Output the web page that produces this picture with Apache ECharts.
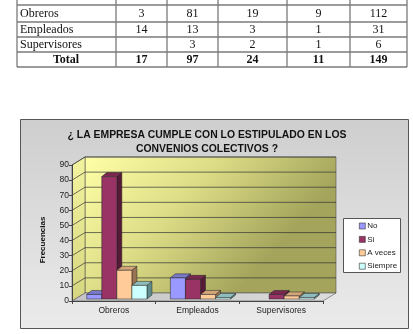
<!DOCTYPE html>
<html><head><meta charset="utf-8">
<script src="https://cdn.jsdelivr.net/npm/echarts@6/dist/echarts.min.js"></script>
<style>html,body{margin:0;padding:0;background:#fff}#c{width:413px;height:334px}</style>
</head><body><div id="c"></div>
<script>
// ---- data ----
const categories = ['Obreros', 'Empleados', 'Supervisores'];
const seriesNames = ['No', 'Si', 'A veces', 'Siempre'];
const noVals = [3, 14, null];
const siVals = [81, 13, 3];
const aVecesVals = [19, 3, 2];
const siempreVals = [9, 1, 1];
const rowTotals = [112, 31, 6];
const colTotals = [17, 97, 24, 11];
const grandTotal = 149;
const totalLabel = 'Total';
const yMax = 90, yStep = 10;
const titleText = '¿ LA EMPRESA CUMPLE CON LO ESTIPULADO EN LOS\nCONVENIOS COLECTIVOS ?';
const yName = 'Frecuencias';

// ---- style ----
const colors = ['#9999ff', '#993366', '#ffcc99', '#ccffff'];
const topColors = ['#7a7acc', '#7a2850', '#d2a67a', '#8fbcbc'];
const sideColors = ['#5c5ca6', '#561a38', '#9a7452', '#5f8c8c'];
const DX = 13, DY = -8;      // wall depth
const BOX = 3, BOY = -2;     // bar front offset
const BDX = 5, BDY = -4;     // bar depth
const sans = 'Liberation Sans', serif = 'Liberation Serif';

const allVals = [noVals, siVals, aVecesVals, siempreVals];

// ---- table graphic ----
const tCols = [17, 116, 167, 218, 287, 350, 407];
const tRows = [0, 5, 22, 37, 52, 67];
const tg = [];
const lineStyle = { stroke: '#7a7a7a', lineWidth: 1.3 };
tCols.forEach(x => tg.push({ type: 'line', shape: { x1: x, y1: 0, x2: x, y2: 67 }, style: lineStyle }));
tRows.slice(1).forEach(y => tg.push({ type: 'line', shape: { x1: 17, y1: y, x2: 407, y2: y }, style: lineStyle }));
const colCenter = i => (tCols[i + 1] + tCols[i + 2]) / 2;
categories.forEach((cat, r) => {
  const yc = (tRows[r + 1] + tRows[r + 2]) / 2 + 0.5;
  tg.push({ type: 'text', style: { x: 20, y: yc, text: cat, font: '12px ' + serif, fill: '#111', textVerticalAlign: 'middle' } });
  allVals.forEach((arr, k) => {
    if (arr[r] != null) tg.push({ type: 'text', style: { x: colCenter(k), y: yc, text: String(arr[r]), font: '12px ' + serif, fill: '#111', textAlign: 'center', textVerticalAlign: 'middle' } });
  });
  tg.push({ type: 'text', style: { x: colCenter(4), y: yc, text: String(rowTotals[r]), font: '12px ' + serif, fill: '#111', textAlign: 'center', textVerticalAlign: 'middle' } });
});
{
  const yc = (tRows[4] + tRows[5]) / 2 + 0.5;
  tg.push({ type: 'text', style: { x: 66, y: yc, text: totalLabel, font: 'bold 12px ' + serif, fill: '#111', textAlign: 'center', textVerticalAlign: 'middle' } });
  colTotals.forEach((v, k) => tg.push({ type: 'text', style: { x: colCenter(k), y: yc, text: String(v), font: 'bold 12px ' + serif, fill: '#111', textAlign: 'center', textVerticalAlign: 'middle' } }));
  tg.push({ type: 'text', style: { x: colCenter(4), y: yc, text: String(grandTotal), font: 'bold 12px ' + serif, fill: '#111', textAlign: 'center', textVerticalAlign: 'middle' } });
}

// chart box
tg.push({ type: 'rect', z: -10, shape: { x: 20.5, y: 119.5, width: 388, height: 209 },
  style: { fill: { type: 'linear', x: 0, y: 0, x2: 0, y2: 1, colorStops: [{ offset: 0, color: '#cecece' }, { offset: 1, color: '#ebebeb' }] }, stroke: '#555', lineWidth: 1 } });
// legend box
tg.push({ type: 'rect', z: 1, shape: { x: 343.5, y: 218.5, width: 57, height: 54 }, style: { fill: '#fff', stroke: '#555', lineWidth: 1 } });
// y axis name
tg.push({ type: 'text', z: 5, x: 43, y: 240, rotation: Math.PI / 2,
  style: { x: 0, y: 0, text: yName, font: 'bold 8px ' + sans, fill: '#111', textAlign: 'center', textVerticalAlign: 'middle' } });

// ---- walls ----
function renderWalls(params, api) {
  const band = api.size([1, 0])[0];
  const p0 = api.coord([0, 0]);
  const x0 = p0[0] - band / 2;
  const x1 = api.coord([categories.length - 1, 0])[0] + band / 2;
  const yb = p0[1];
  const yt = api.coord([0, yMax])[1];
  const ch = [];
  ch.push({ type: 'rect', shape: { x: x0 + DX, y: yt + DY, width: x1 - x0, height: yb - yt },
    style: { fill: { type: 'linear', x: 0, y: 0, x2: 0.6, y2: 1, colorStops: [{ offset: 0, color: '#ffffa8' }, { offset: 0.5, color: '#dcdc86' }, { offset: 1, color: '#a4a45c' }] }, stroke: '#555', lineWidth: 0.6 } });
  ch.push({ type: 'polygon', shape: { points: [[x0, yt], [x0 + DX, yt + DY], [x0 + DX, yb + DY], [x0, yb]] },
    style: { fill: { type: 'linear', x: 0, y: 0, x2: 0, y2: 1, colorStops: [{ offset: 0, color: '#f4f4a0' }, { offset: 1, color: '#d6d680' }] }, stroke: '#555', lineWidth: 0.6 } });
  ch.push({ type: 'polygon', shape: { points: [[x0, yb], [x0 + DX, yb + DY], [x1 + DX, yb + DY], [x1, yb]] },
    style: { fill: { type: 'linear', x: 0, y: 0, x2: 1, y2: 0, colorStops: [{ offset: 0, color: '#c4c4c4' }, { offset: 1, color: '#dcdcdc' }] }, stroke: '#555', lineWidth: 0.6 } });
  for (let v = yStep; v <= yMax; v += yStep) {
    const y = api.coord([0, v])[1];
    ch.push({ type: 'polyline', shape: { points: [[x0, y], [x0 + DX, y + DY], [x1 + DX, y + DY]] }, style: { stroke: '#333', lineWidth: 0.7, fill: null } });
  }
  return { type: 'group', children: ch };
}

// ---- 3D bars ----
function makeBarRenderer(k) {
  return function (params, api) {
    const v = api.value(1);
    if (v == null || isNaN(v)) return;
    const band = api.size([1, 0])[0];
    const c = api.coord([api.value(0), v]);
    const b = api.coord([api.value(0), 0]);
    const w = band * 0.18;
    const x = c[0] - 2 * w + k * w + BOX;
    const top = c[1] + BOY, bot = b[1] + BOY;
    const stroke = { stroke: '#222', lineWidth: 0.5 };
    return { type: 'group', children: [
      { type: 'polygon', shape: { points: [[x + w, top], [x + w + BDX, top + BDY], [x + w + BDX, bot + BDY], [x + w, bot]] }, style: Object.assign({ fill: sideColors[k] }, stroke) },
      { type: 'polygon', shape: { points: [[x, top], [x + w, top], [x + w + BDX, top + BDY], [x + BDX, top + BDY]] }, style: Object.assign({ fill: topColors[k] }, stroke) },
      { type: 'rect', shape: { x: x, y: top, width: w, height: bot - top }, style: Object.assign({ fill: colors[k] }, stroke) }
    ] };
  };
}

const series = [{
  type: 'custom', name: '_walls', z: 1, silent: true,
  renderItem: renderWalls, data: [[0, 0]]
}];
allVals.forEach((arr, k) => {
  series.push({
    type: 'custom', name: seriesNames[k], z: 2 + k,
    itemStyle: { color: colors[k] },
    renderItem: makeBarRenderer(k),
    data: arr.map((v, i) => [i, v])
  });
});

const chart = echarts.init(document.getElementById('c'), null, { renderer: 'canvas' });
chart.setOption({
  animation: false,
  title: {
    text: titleText, left: 202, top: 123, textAlign: 'center',
    textStyle: { fontFamily: sans, fontSize: 10.4, fontWeight: 'bold', color: '#111', lineHeight: 14 }
  },
  legend: {
    data: seriesNames, orient: 'vertical', left: 354, top: 216, z: 5,
    itemWidth: 6, itemHeight: 6, itemGap: 3.4, icon: 'rect',
    itemStyle: { borderColor: '#333', borderWidth: 0.6 },
    textStyle: { fontFamily: sans, fontSize: 8, color: '#222', lineHeight: 10, padding: [0, 0, 0, -3] }
  },
  grid: { left: 72, right: 90, top: 165, bottom: 33 },
  xAxis: {
    type: 'category', data: categories, z: 6,
    axisLine: { show: true, lineStyle: { color: '#444', width: 1 } },
    axisTick: { show: true, length: 3, lineStyle: { color: '#444' } },
    axisLabel: { fontFamily: sans, fontSize: 8.5, color: '#222', margin: 5 }
  },
  yAxis: {
    type: 'value', min: 0, max: yMax, interval: yStep, z: 6,
    axisLine: { show: true, lineStyle: { color: '#444', width: 1 } },
    axisTick: { show: true, length: 3, lineStyle: { color: '#444' } },
    axisLabel: { fontFamily: sans, fontSize: 8.5, color: '#222', margin: 3 },
    splitLine: { show: false }
  },
  graphic: tg,
  series: series
});
</script>
</body></html>
